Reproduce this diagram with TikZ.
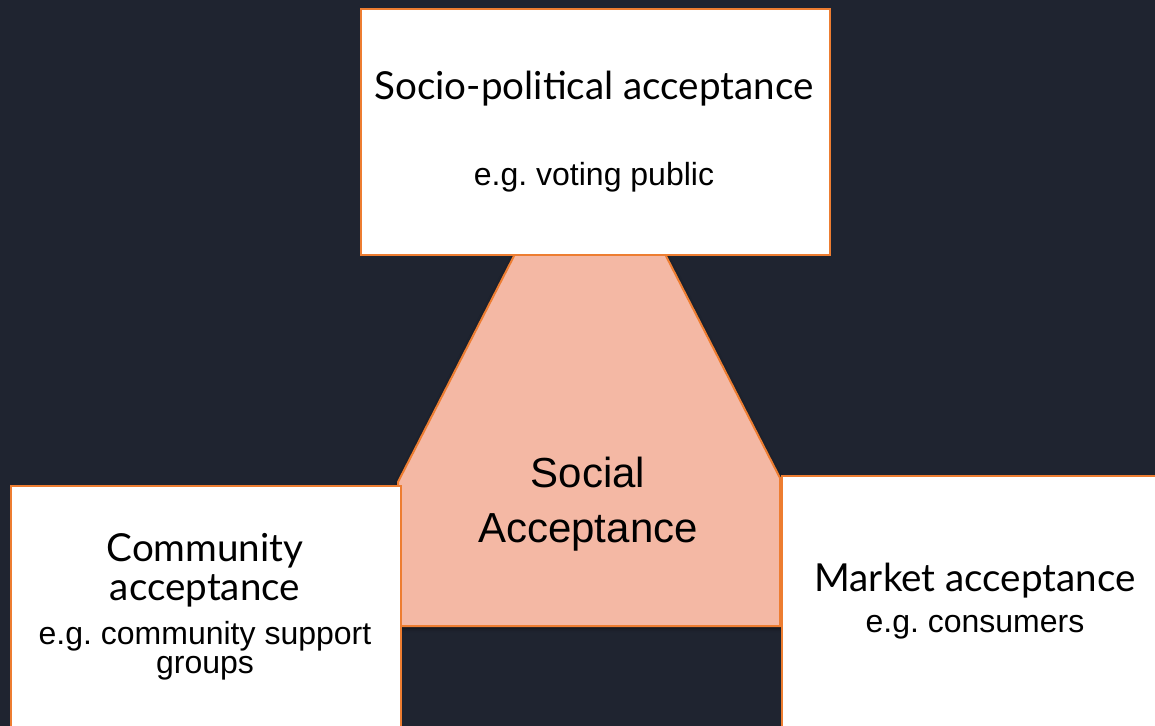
\documentclass[tikz,border=0pt]{standalone}
\usepackage{fontspec}
\setmainfont{Liberation Sans}
\newfontfamily\headfont{Lato}
\usetikzlibrary{shadows.blur}
\frenchspacing

\definecolor{bgdark}{HTML}{1F2430}
\definecolor{edgeorange}{HTML}{ED7D31}
\definecolor{salmon}{HTML}{F4B8A4}

\begin{document}
\begin{tikzpicture}[x=0.5pt,y=-0.5pt,
  card/.style={draw=edgeorange, line width=1pt, fill=white, inner sep=0pt, anchor=north west},
  headtext/.style={font=\headfont\fontsize{19.3}{23}\selectfont, inner sep=0pt},
  subtext/.style={font=\fontsize{16}{19}\selectfont, inner sep=0pt}]
  \useasboundingbox (0,0) rectangle (1155,726);
  \fill[bgdark] (0,0) rectangle (1155,726);
  \clip (0,0) rectangle (1155,726);

  % centre shape
  \filldraw[fill=salmon, draw=edgeorange, line width=1pt,
    blur shadow={shadow blur steps=6, shadow xshift=0pt, shadow yshift=-1pt, shadow opacity=50}]
    (515,254) -- (665,254) -- (780,478) -- (780,626) -- (400,626) -- (398,482) -- cycle;
  \node[font=\fontsize{21}{24}\selectfont, inner sep=0pt] (social) at (588,472) {Social};
  \node[font=\fontsize{21}{24}\selectfont, inner sep=0pt] (acc) at (588,532) {Acceptance};

  % the three boxes
  \node[card, minimum width=234.5pt, minimum height=123pt] (top) at (360,8) {};
  \node[card, minimum width=195pt, minimum height=140pt] (left) at (10,485) {};
  \node[card, minimum width=195pt, minimum height=140pt] (right) at (781,475) {};

  \node[headtext] (toptitle) at (594,89) {Socio-political acceptance};
  \node[subtext] (topsub) at (594,177) {e.g. voting public};

  \node[headtext] (lefttitle1) at (205,551) {Community};
  \node[headtext] (lefttitle2) at (205,591) {acceptance};
  \node[subtext] (leftsub1) at (205,636) {e.g. community support};
  \node[subtext] (leftsub2) at (205,668) {groups};

  \node[headtext] (righttitle) at (975,581) {Market acceptance};
  \node[subtext] (rightsub) at (975,627) {e.g. consumers};
\end{tikzpicture}
\end{document}
